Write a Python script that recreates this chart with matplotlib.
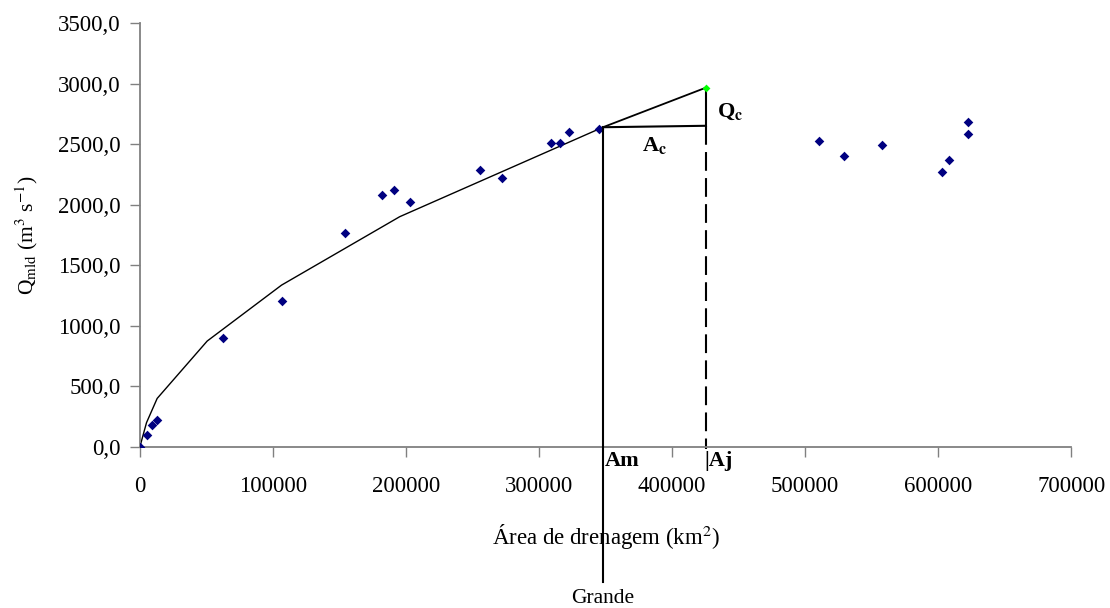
import matplotlib
matplotlib.use("Agg")
import matplotlib.pyplot as plt
from matplotlib.ticker import FuncFormatter, MultipleLocator

plt.rcParams['font.family'] = ['Liberation Serif', 'DejaVu Serif']
plt.rcParams['mathtext.fontset'] = 'stix'

# Observed stations: drainage area (km2) and mean long-term discharge (m3/s)
area_obs = [0, 5000, 9500, 13000, 62400, 107200, 154000, 182000, 190800, 202900,
            255400, 272500, 309000, 315800, 322500, 344900,
            510700, 529400, 557500, 603300, 608300, 622100, 622800]
q_obs = [0, 102, 177, 226, 896, 1207, 1769, 2080, 2121, 2020,
         2284, 2218, 2507, 2507, 2601, 2628,
         2526, 2402, 2496, 2273, 2367, 2582, 2684]

# Regional curve
area_curve = [0, 5000, 13000, 50600, 106500, 195300, 348100]
q_curve = [0, 200, 400, 874, 1336, 1901, 2640]

# Construction
am = 348100
aj = 425500
q_am = 2640
q_am_right = 2652
q_c = 2967

W, H = 1110, 608
fig = plt.figure(figsize=(W / 100, H / 100), dpi=100)
ax = fig.add_axes([0.126, 0.265, 0.839, 0.697])

ax.plot(area_curve, q_curve, color='black', lw=1.0, zorder=2)
ax.scatter(area_obs, q_obs, marker='D', s=24, color='#000080', zorder=3, linewidths=0)

# Extrapolation line from Am to Aj
ax.plot([am, aj], [q_am, q_c], color='black', lw=1.3, zorder=2)
# horizontal from Am to Aj
ax.plot([am, aj], [q_am, q_am_right], color='black', lw=1.5, zorder=2)
# vertical Qc segment
ax.plot([aj, aj], [q_am_right, q_c], color='black', lw=1.5, zorder=2)
# dashed vertical at Aj
ax.plot([aj, aj], [q_am_right, -20], color='black', lw=1.5, ls=(0, (9, 3.5)), zorder=2, clip_on=False)
# solid vertical at Am reaching below axis
ax.plot([am, am], [q_am, -1115], color='black', lw=1.5, zorder=4, clip_on=False)
ax.scatter([aj], [q_c], marker='D', s=16, color='#00ff00', zorder=5, linewidths=0)

ax.text(aj + 8000, 2770, r'Q$_\mathbf{c}$', fontsize=16, fontweight='bold', va='center', ha='left')
ax.text(am + 29000, 2485, r'A$_\mathbf{c}$', fontsize=16, fontweight='bold', va='center', ha='left')
ax.text(am + 1500, -115, 'Am', fontsize=16, fontweight='bold', va='center', ha='left', clip_on=False)
ax.text(aj - 1500, -115, '|Aj', fontsize=16, fontweight='bold', va='center', ha='left', clip_on=False)
ax.text(am, -1250, 'Grande', fontsize=15.5, va='center', ha='center', clip_on=False)

ax.set_xlim(0, 700000)
ax.set_ylim(0, 3500)
ax.xaxis.set_major_locator(MultipleLocator(100000))
ax.yaxis.set_major_locator(MultipleLocator(500))
ax.xaxis.set_major_formatter(FuncFormatter(lambda v, p: f"{int(round(v))}"))
ax.yaxis.set_major_formatter(FuncFormatter(lambda v, p: f"{v:.1f}".replace('.', ',')))

for s in ['top', 'right']:
    ax.spines[s].set_visible(False)
for s in ['left', 'bottom']:
    ax.spines[s].set_color('#808080')
    ax.spines[s].set_linewidth(1.3)

ax.tick_params(axis='x', direction='out', length=7, width=1, color='#808080', labelsize=16.5, pad=14)
ax.tick_params(axis='y', direction='out', length=7, width=1, color='#808080', labelsize=16.5, pad=7)

fig.text(605.8 / W, 1 - 536.7 / H, r'Área de drenagem (km$^2$)', fontsize=16.5, ha='center', va='center')
fig.text(27 / W, 1 - 235 / H, r'Q$_{\mathrm{mld}}$ (m$^3$ s$^{-1}$)', fontsize=15.5, rotation=90,
         ha='center', va='center')

fig.savefig('out.png', dpi=100)
